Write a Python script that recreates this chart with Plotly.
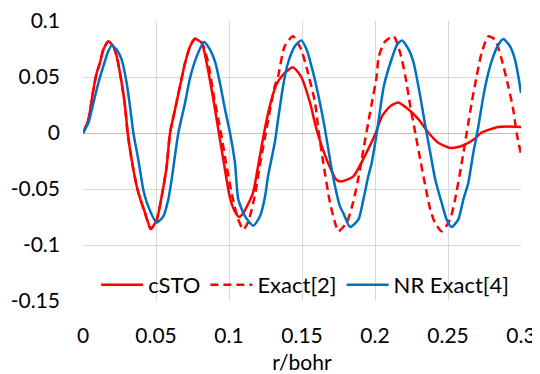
import plotly.graph_objects as go

# ---- data ----
x_csto = [0, 0.0037, 0.0071, 0.0094, 0.0116, 0.0139, 0.0173, 0.0208, 0.0231, 0.0265, 0.0288, 0.0306,
          0.0333, 0.0368, 0.039, 0.0425, 0.0464, 0.0505, 0.0539, 0.0573, 0.0596, 0.063, 0.0664, 0.0699,
          0.0733, 0.0767, 0.0813, 0.0847, 0.0893, 0.0927, 0.0961, 0.1007, 0.104, 0.107, 0.110, 0.1164,
          0.1199, 0.124, 0.1279, 0.1324, 0.137, 0.1438, 0.1495, 0.1555, 0.160, 0.167, 0.1737, 0.177,
          0.185, 0.194, 0.2005, 0.2048, 0.2105, 0.2158, 0.223, 0.23, 0.2368, 0.2436, 0.2514, 0.257,
          0.2616, 0.2685, 0.2725, 0.2845, 0.3]
y_csto = [0, 0.012, 0.0387, 0.0536, 0.0625, 0.0744, 0.0818, 0.0773, 0.0684, 0.0446, 0.0238, 0,
          -0.0238, -0.0476, -0.058, -0.0714, -0.0857, -0.0774, -0.0566, -0.0298, 0, 0.0208, 0.0416, 0.0625,
          0.0773, 0.0842, 0.0804, 0.0625, 0.0298, 0.003, -0.0238, -0.058, -0.07, -0.075, -0.071, -0.0536,
          -0.0298, 0, 0.0238, 0.043, 0.052, 0.0586, 0.05, 0.027, 0.003, -0.024, -0.042, -0.0432,
          -0.039, -0.018, 0, 0.015, 0.024, 0.0273, 0.021, 0.012, 0, -0.009, -0.0134, -0.0125,
          -0.0104, -0.005, 0, 0.0054, 0.0054]

x_exact = [0, 0.0037, 0.0071, 0.0094, 0.0116, 0.0139, 0.0173, 0.0208, 0.0231, 0.0265, 0.0288, 0.0306,
           0.0333, 0.0368, 0.039, 0.0425, 0.0464, 0.0505, 0.0539, 0.0573, 0.0596, 0.063, 0.0664, 0.0699,
           0.0733, 0.0767, 0.0813, 0.0855, 0.090, 0.0945, 0.098, 0.102, 0.106, 0.1098, 0.113, 0.1176,
           0.121, 0.1256, 0.1313, 0.1336, 0.1381, 0.1438, 0.1495, 0.1532, 0.159, 0.1612, 0.1646, 0.1692,
           0.1726, 0.1749, 0.1806, 0.185, 0.1897, 0.192, 0.1966, 0.2011, 0.2025, 0.207, 0.2128, 0.2173,
           0.2208, 0.2242, 0.2276, 0.231, 0.2345, 0.2379, 0.241, 0.2457, 0.2514, 0.2548, 0.2594, 0.2628,
           0.2662, 0.2696, 0.273, 0.2776, 0.2822, 0.2868, 0.2913, 0.2947, 0.297, 0.3]
y_exact = [0, 0.012, 0.0387, 0.0536, 0.0625, 0.0744, 0.0818, 0.0773, 0.0684, 0.0446, 0.0238, 0,
           -0.0238, -0.0476, -0.058, -0.0714, -0.0857, -0.0774, -0.0566, -0.0298, 0, 0.0208, 0.0416, 0.0625,
           0.0773, 0.0842, 0.0808, 0.064, 0.03, 0, -0.027, -0.055, -0.076, -0.0863, -0.08, -0.0566,
           -0.0298, 0.003, 0.0416, 0.0505, 0.0773, 0.0863, 0.0744, 0.058, 0.0268, 0.003, -0.0268, -0.0625,
           -0.080, -0.0878, -0.08, -0.062, -0.033, -0.015, 0.018, 0.0505, 0.068, 0.0818, 0.0863, 0.0714,
           0.0506, 0.0238, 0, -0.0238, -0.0476, -0.0685, -0.080, -0.0878, -0.0774, -0.0595, -0.0268, 0,
           0.0268, 0.0505, 0.0714, 0.0863, 0.0833, 0.0655, 0.0416, 0.0208, 0, -0.019]

x_nr = [0, 0.0037, 0.0071, 0.0105, 0.0139, 0.0173, 0.0196, 0.0231, 0.0265, 0.0299, 0.0322, 0.0345,
        0.0379, 0.0413, 0.0447, 0.0505, 0.055, 0.0584, 0.0607, 0.0653, 0.0699, 0.0733, 0.0779, 0.0829,
        0.087, 0.0904, 0.0938, 0.0973, 0.1007, 0.1041, 0.1064, 0.111, 0.1167, 0.1212, 0.1247, 0.1267,
        0.1313, 0.1336, 0.137, 0.1404, 0.145, 0.1495, 0.1532, 0.1577, 0.1623, 0.1658, 0.1692, 0.1726,
        0.176, 0.1783, 0.1829, 0.1886, 0.192, 0.1954, 0.1977, 0.2012, 0.206, 0.2105, 0.2151, 0.2185,
        0.2231, 0.2265, 0.231, 0.2345, 0.2379, 0.2413, 0.2457, 0.2491, 0.2525, 0.257, 0.2605, 0.2639,
        0.2673, 0.2708, 0.2742, 0.2776, 0.281, 0.2845, 0.2879, 0.2925, 0.2959, 0.2982, 0.3]
y_nr = [0, 0.009, 0.0268, 0.0446, 0.0595, 0.0729, 0.078, 0.0744, 0.0655, 0.0446, 0.0238, 0,
        -0.0238, -0.0506, -0.0655, -0.080, -0.0744, -0.0595, -0.0417, 0, 0.0268, 0.049, 0.0684, 0.0812,
        0.0744, 0.064, 0.0446, 0.0208, 0, -0.0268, -0.0595, -0.0744, -0.0828, -0.0744, -0.0566, -0.0387,
        -0.009, 0.012, 0.0416, 0.0625, 0.0773, 0.0827, 0.0744, 0.0536, 0.0268, 0.003, -0.0238, -0.0476,
        -0.0655, -0.0714, -0.0839, -0.0774, -0.0595, -0.0387, -0.027, 0, 0.0416, 0.0625, 0.0788, 0.0827,
        0.0744, 0.0625, 0.0327, 0.006, -0.0179, -0.0417, -0.0625, -0.0774, -0.0839, -0.0774, -0.0595, -0.0446,
        -0.0179, 0.006, 0.0327, 0.0536, 0.0684, 0.0788, 0.0839, 0.0773, 0.0655, 0.0505, 0.0357]

series_names = ["cSTO", "Exact[2]", "NR Exact[4]"]
x_ticks = [0, 0.05, 0.1, 0.15, 0.2, 0.25, 0.3]
x_tick_labels = ["0", "0.05", "0.1", "0.15", "0.2", "0.25", "0.3"]
y_ticks = [0.1, 0.05, 0, -0.05, -0.1, -0.15]
y_tick_labels = ["0.1", "0.05", "0", "-0.05", "-0.1", "-0.15"]
x_title = "r/bohr"

assert len(x_csto) == len(y_csto), (len(x_csto), len(y_csto))
assert len(x_exact) == len(y_exact), (len(x_exact), len(y_exact))
assert len(x_nr) == len(y_nr), (len(x_nr), len(y_nr))

FONT = "Lato, 'Open Sans', sans-serif"
RED = "#FF0000"
BLUE = "#0070C0"

fig = go.Figure()
fig.add_trace(go.Scatter(x=x_csto, y=y_csto, mode="lines", name=series_names[0],
                         line=dict(color=RED, width=2.5, shape="spline", smoothing=0.6)))
fig.add_trace(go.Scatter(x=x_exact, y=y_exact, mode="lines", name=series_names[1],
                         line=dict(color=RED, width=2.5, dash="8px,5px", shape="spline", smoothing=0.6)))
fig.add_trace(go.Scatter(x=x_nr, y=y_nr, mode="lines", name=series_names[2],
                         line=dict(color=BLUE, width=2.5, shape="spline", smoothing=0.6)))

# the page body adds an 8px offset, so the figure is sized to fit the 540x374 window
fig.update_layout(
    width=532, height=366,
    margin=dict(l=75, r=19, t=13, b=73, autoexpand=False),
    paper_bgcolor="white", plot_bgcolor="white",
    font=dict(family=FONT, size=21, color="#000000"),
    showlegend=True,
    legend=dict(orientation="h", x=0.03, xanchor="left", y=0.057, yanchor="middle",
                bgcolor="rgba(255,255,255,0)", font=dict(size=22, family=FONT),
                itemwidth=42, tracegroupgap=0),
    xaxis=dict(range=[0, 0.3], tickvals=x_ticks, ticktext=x_tick_labels,
               showgrid=True, gridcolor="#D9D9D9", gridwidth=1, automargin=False,
               zeroline=False, showline=False, ticks="", ticklabelstandoff=20,
               ticklabeloverflow="allow",
               title=dict(text=x_title, font=dict(size=21, family=FONT), standoff=18)),
    yaxis=dict(range=[-0.15, 0.1], tickvals=y_ticks, ticktext=y_tick_labels,
               showgrid=True, gridcolor="#D9D9D9", gridwidth=1, automargin=False,
               zeroline=True, zerolinecolor="#BFBFBF", zerolinewidth=1,
               showline=False, ticks="", ticklabelstandoff=22,
               ticklabeloverflow="allow"),
)

fig.write_html("out.html")
